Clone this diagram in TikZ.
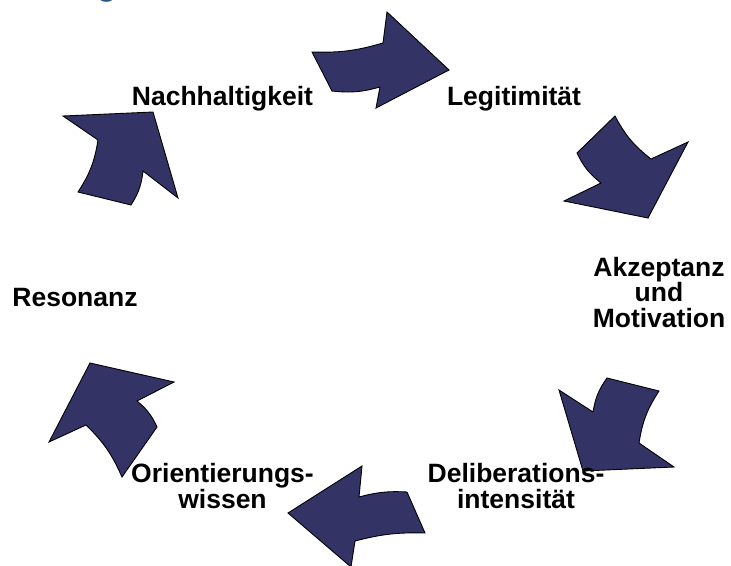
\documentclass[tikz,border=0pt]{standalone}
\usepackage{fontspec}
\setmainfont{Liberation Sans}
\definecolor{arrowfill}{RGB}{51,51,102}
\definecolor{titleblue}{RGB}{36,84,130}
\tikzset{
  cyc/.style={fill=arrowfill, draw=black, line width=0.9pt, line join=miter},
  lbl/.style={font=\fontsize{26.5}{25.5}\selectfont\bfseries, align=center, inner sep=0pt, anchor=base},
}
\begin{document}
\begin{tikzpicture}[x=1pt,y=-1pt]
\useasboundingbox (0,0) rectangle (731,565);
\fill[white] (0,0) rectangle (731,565);
\begin{scope}
\clip (0,0) rectangle (731,565);
\node[font=\fontsize{32}{32}\selectfont\bfseries, text=titleblue, anchor=base, inner sep=0pt] (title) at (107,-4.5) {g};
% arrow 1 (top)
\draw[cyc] (312,52) to[bend right=9] (383,43) -- (387,12) -- (449,70) -- (376,108) -- (380,87) to[bend left=11] (332,91) -- cycle;
% arrow 2 (upper right)
\draw[cyc] (615,116) to[bend right=12] (651,159) -- (688,142) -- (648,218) -- (564,201) -- (601,183) to[bend left=13] (577,153) -- cycle;
% arrow 3 (lower right)
\draw[cyc] (593,412) to[bend left=13] (607,378) -- (659,391) to[bend right=12] (639,443) -- (674,467) -- (583,471) -- (559,390) -- cycle;
% arrow 4 (bottom)
\draw[cyc] (359,497) to[bend left=9] (407,492) -- (425,533) to[bend right=8] (355,541) -- (351,567) -- (288,513) -- (362,466) -- cycle;
% arrow 5 (lower left)
\draw[cyc] (137,401) to[bend left=13] (157,427) -- (122,477) to[bend right=11] (86,425) -- (49,442) -- (90,363) -- (174,382) -- cycle;
% arrow 6 (upper left)
\draw[cyc] (143,171) to[bend left=13] (131,205) -- (78,192) to[bend right=12] (98,140) -- (63,116) -- (153,112) -- (178,198) -- cycle;
\end{scope}
\node[lbl] (nach) at (222.5,105) {Nachhaltigkeit};
\node[lbl] (legi) at (514,105) {Legitimität};
\node[lbl] (akz) at (659,327) {Akzeptanz\\und\\Motivation};
\node[lbl] (reso) at (75,306) {Resonanz};
\node[lbl] (deli) at (516,508) {Deliberations-\\intensität};
\node[lbl] (orie) at (222.5,508) {Orientierungs-\\wissen};
\end{tikzpicture}
\end{document}
